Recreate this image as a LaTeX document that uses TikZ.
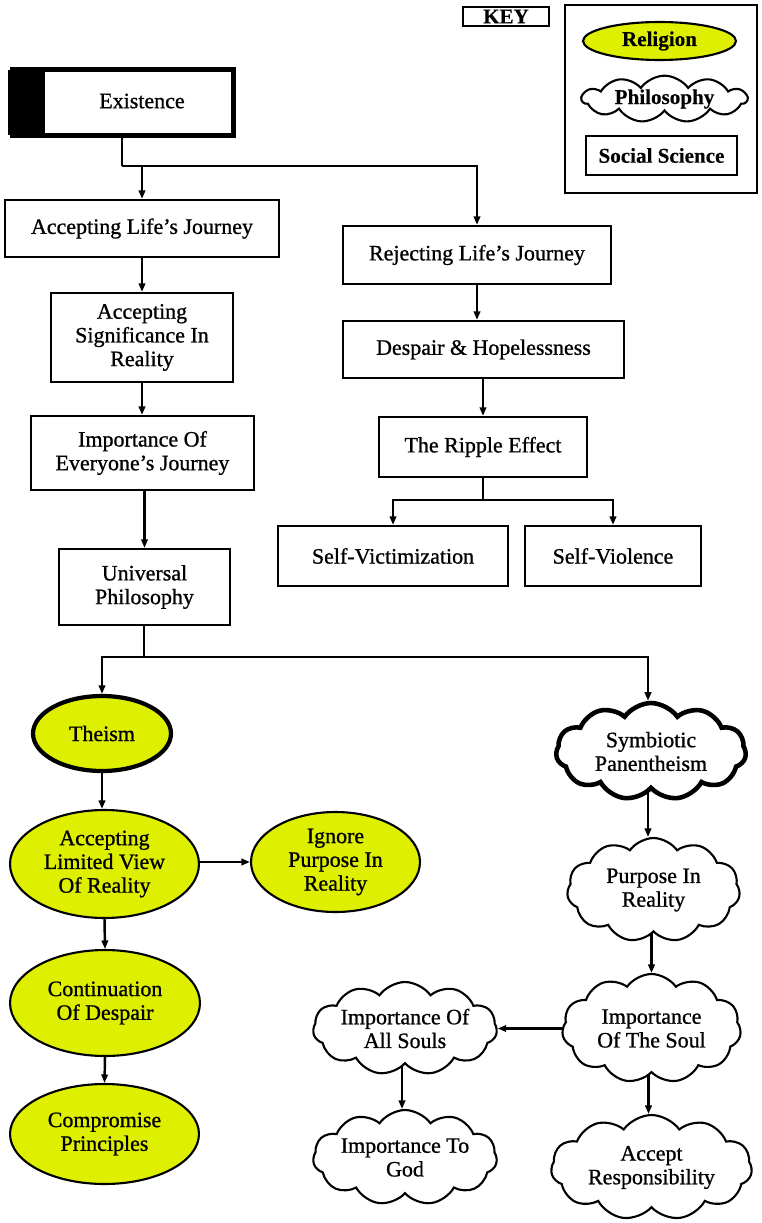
\documentclass[tikz,border=0pt]{standalone}
\usepackage{fontspec}
\setmainfont{Liberation Serif}[FakeBold=0.9]
\newfontfamily\keyfont{Liberation Serif}[FakeBold=0.3]
\usetikzlibrary{shapes.geometric,shapes.symbols,arrows.meta,calc}
\definecolor{relyel}{RGB}{222,240,0}
\begin{document}
\begin{tikzpicture}[x=0.02cm,y=-0.02cm,
  every node/.style={font=\fontsize{12.5}{13.5}\selectfont, align=center, inner sep=0pt},
  keyf/.style={font=\fontsize{12}{13}\selectfont\keyfont\bfseries},
  sbox/.style={draw, line width=1.3pt, rectangle},
  rel/.style={draw, line width=1.2pt, ellipse, fill=relyel},
  phil/.style={draw, line width=1.2pt, cloud, cloud puffs=11, cloud puff arc=110, cloud ignores aspect},
  arr/.style={line width=1.4pt, -{Triangle[length=0.17cm,width=0.13cm]}},
  ln/.style={line width=1.4pt}]
\useasboundingbox (0,0) rectangle (761,1223);
% key
\node[draw, line width=0.8pt, minimum width=1.72cm, minimum height=0.38cm, keyf] (key) at (506,16.5) {KEY};
\node[draw, line width=0.8pt, minimum width=3.84cm, minimum height=3.76cm] (keybox) at (661,99) {};
\node[rel, minimum width=3.06cm, minimum height=0.76cm, keyf] (kr) at (659.5,41) {Religion};
\node[phil, minimum width=3.3cm, minimum height=0.92cm, keyf] (kp) at (664.5,99) {Philosophy};
\node[sbox, minimum width=3.02cm, minimum height=0.78cm, keyf] (ks) at (661.5,155.5) {Social Science};
% existence
\node[draw, line width=2.6pt, minimum width=4.42cm, minimum height=1.32cm] (ex) at (123,102.5) {};
\fill ($(ex.north west)+(-1.3pt,-1.3pt)$) rectangle ($(ex.south west)+(35,1.3pt)$);
\node at (142,101) {Existence};
% boxes
\node[sbox, minimum width=5.48cm, minimum height=1.14cm] (acc) at (142,228.5) {Accepting Life's Journey};
\node[sbox, minimum width=5.36cm, minimum height=1.16cm] (rej) at (477,255) {Rejecting Life's Journey};
\node[sbox, minimum width=3.64cm, minimum height=1.78cm] (sig) at (142,337.5) {Accepting\\Significance In\\Reality};
\node[sbox, minimum width=5.62cm, minimum height=1.14cm] (desp) at (483.5,349.5) {Despair \& Hopelessness};
\node[sbox, minimum width=4.46cm, minimum height=1.48cm] (imp) at (142.5,453) {Importance Of\\Everyone's Journey};
\node[sbox, minimum width=4.16cm, minimum height=1.2cm] (rip) at (483,447) {The Ripple Effect};
\node[sbox, minimum width=4.6cm, minimum height=1.2cm] (sv) at (393,556) {Self-Victimization};
\node[sbox, minimum width=3.52cm, minimum height=1.2cm] (sviol) at (613,556) {Self-Violence};
\node[sbox, minimum width=3.42cm, minimum height=1.52cm] (uni) at (144.5,587) {Universal\\Philosophy};
% religion
\node[rel, line width=2.4pt, minimum width=2.76cm, minimum height=1.5cm] (the) at (102,733.5) {Theism};
\node[rel, minimum width=3.78cm, minimum height=2.16cm] (lim) at (104.5,864) {Accepting\\Limited View\\Of Reality};
\node[rel, minimum width=3.38cm, minimum height=2.0cm] (ign) at (335.5,862) {Ignore\\Purpose In\\Reality};
\node[rel, minimum width=3.8cm, minimum height=2.12cm] (cont) at (105,1003) {Continuation\\Of Despair};
\node[rel, minimum width=3.78cm, minimum height=2.0cm] (comp) at (104.5,1134) {Compromise\\Principles};
% philosophy
\node[phil, line width=2.6pt, minimum width=3.8cm, minimum height=1.94cm] (sym) at (651,751.5) {Symbiotic\\Panentheism};
\node[phil, minimum width=3.46cm, minimum height=2.08cm] (pur) at (653.5,890) {Purpose In\\Reality};
\node[phil, minimum width=3.58cm, minimum height=2.18cm] (soul) at (651.5,1028.5) {Importance\\Of The Soul};
\node[phil, minimum width=3.68cm, minimum height=1.86cm] (all) at (405,1028.5) {Importance Of\\All Souls};
\node[phil, minimum width=3.68cm, minimum height=1.9cm] (god) at (405,1157.5) {Importance To\\God};
\node[phil, minimum width=4.02cm, minimum height=2.1cm] (resp) at (651.5,1167.5) {Accept\\Responsibility};
% connectors
\coordinate (j1) at (122,166);
\draw[ln] (ex.south -| j1) -- (j1);
\draw[arr] (j1) -| (rej.north);
\draw[arr] (j1 -| acc.north) -- (acc.north);
\draw[arr] (acc.south) -- (sig.north);
\draw[arr] (sig.south) -- (imp.north -| sig.south);
\draw[arr] (imp.south -| uni.north) -- (uni.north);
\draw[arr] (rej.south) -- (rej.south |- desp.north);
\draw[arr] (desp.south -| rip.north) -- (rip.north);
\coordinate (j2) at (483,500);
\draw[ln] (rip.south) -- (j2);
\draw[arr] (j2) -| (sv.north);
\draw[arr] (j2) -| (sviol.north);
\coordinate (j3) at (144,657);
\draw[ln] (uni.south -| j3) -- (j3);
\draw[arr] (j3) -| (the.north);
\draw[arr] (j3) -| ($(sym.north)+(-3,0)$);
\draw[arr] (the.south) -- (the.south |- lim.north);
\draw[arr] (lim.east |- ign.west) -- (ign.west);
\draw[arr] (lim.south) -- (cont.north);
\draw[arr] (cont.south) -- (comp.north);
\draw[arr] ($(sym.south)+(-3,0)$) -- ($(sym.south |- pur.north)+(-3,0)$);
\draw[arr] (pur.south -| soul.north) -- (soul.north);
\draw[arr] (soul.west) -- (soul.west -| all.east);
\draw[arr] ($(all.south)+(-3,0)$) -- ($(all.south |- god.north)+(-3,0)$);
\draw[arr] ($(soul.south)+(-3,0)$) -- ($(soul.south |- resp.north)+(-3,0)$);
\end{tikzpicture}
\end{document}
